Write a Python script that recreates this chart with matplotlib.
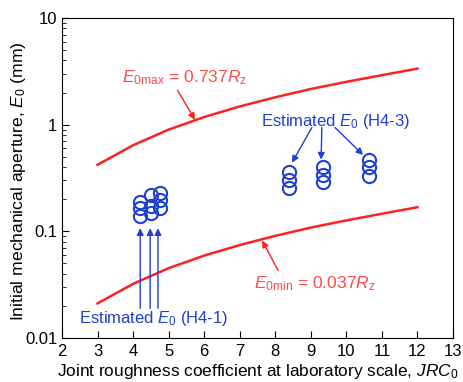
import matplotlib.pyplot as plt
import numpy as np

plt.rcParams['font.family'] = ['Liberation Sans', 'DejaVu Sans']
plt.rcParams['mathtext.fontset'] = 'custom'
plt.rcParams['mathtext.rm'] = 'Liberation Sans'
plt.rcParams['mathtext.it'] = 'Liberation Sans:italic'

# roughness Rz (mm) against laboratory JRC
jrc = [3, 4, 5, 6, 7, 8, 9, 10, 11, 12]
rz = [0.57, 0.87, 1.22, 1.60, 2.01, 2.45, 2.93, 3.42, 3.95, 4.55]
c_max = 0.737
c_min = 0.037

# estimated apertures, H4-1 (three columns near JRC 4-5)
h41_jrc = [4.2, 4.2, 4.2, 4.5, 4.5, 4.5, 4.75, 4.75, 4.75]
h41_e0 = [0.187, 0.164, 0.138, 0.217, 0.171, 0.148, 0.227, 0.195, 0.164]

# estimated apertures, H4-3
h43_jrc = [8.4, 8.4, 8.4, 9.35, 9.35, 9.35, 10.65, 10.65, 10.65]
h43_e0 = [0.36, 0.305, 0.257, 0.40, 0.34, 0.29, 0.47, 0.40, 0.33]

red = '#ff2020'
red_txt = '#ff4a4a'
blue = '#1f3fd0'

fig = plt.figure(figsize=(4.64, 3.82), dpi=100)
ax = fig.add_axes([0.1336, 0.1152, 0.8427, 0.8377])

e_max = np.array(rz) * c_max
e_min = np.array(rz) * c_min
ax.plot(jrc, e_max, color=red, lw=1.8)
ax.plot(jrc, e_min, color=red, lw=1.8)

ax.plot(h41_jrc, h41_e0, 'o', ms=9.5, mfc='none', mec=blue, mew=1.5)
ax.plot(h43_jrc, h43_e0, 'o', ms=9.5, mfc='none', mec=blue, mew=1.5)

ax.set_yscale('log')
ax.set_xlim(2, 13)
ax.set_ylim(0.01, 10)
ax.set_xticks(range(2, 14))
ax.set_yticks([0.01, 0.1, 1, 10])
ax.set_yticklabels(['0.01', '0.1', '1', '10'])
ax.tick_params(which='both', direction='in', top=False, right=False, labelsize=12)
ax.tick_params(which='major', length=5)
ax.tick_params(which='minor', length=3)
ax.tick_params(axis='x', pad=4)

ax.set_xlabel(r'Joint roughness coefficient at laboratory scale, $\mathit{JRC}_0$', fontsize=12.4)
ax.set_ylabel(r'Initial mechanical aperture, $\mathit{E}_0$ (mm)', fontsize=12.6)
ax.xaxis.set_label_coords(0.5, -0.075)
ax.yaxis.set_label_coords(-0.088, 0.49)

arrow = dict(arrowstyle='-|>', mutation_scale=10, lw=1.0, shrinkA=0, shrinkB=0)

# formula labels
ax.text(5.46, 2.76, r'$\mathit{E}_{\mathrm{0max}}$ = 0.737$\mathit{R}_{\mathrm{z}}$',
        ha='center', va='center', color=red_txt, fontsize=12.5)
ax.annotate('', xy=(5.74, 1.11), xytext=(5.25, 2.1),
            arrowprops=dict(arrow, color=red))
ax.text(9.12, 0.0326, r'$\mathit{E}_{\mathrm{0min}}$ = 0.037$\mathit{R}_{\mathrm{z}}$',
        ha='center', va='center', color=red_txt, fontsize=12.5)
ax.annotate('', xy=(7.63, 0.082), xytext=(8.08, 0.043),
            arrowprops=dict(arrow, color=red))

# H4-3 callout
ax.text(9.71, 1.07, r'Estimated $\mathit{E}_0$ (H4-3)', ha='center', va='center',
        color=blue, fontsize=12)
for x0, x1, y1 in [(9.03, 8.47, 0.44), (9.31, 9.29, 0.47), (9.68, 10.47, 0.52)]:
    ax.annotate('', xy=(x1, y1), xytext=(x0, 0.94),
                arrowprops=dict(arrow, color=blue))

# H4-1 callout
ax.text(4.59, 0.0153, r'Estimated $\mathit{E}_0$ (H4-1)', ha='center', va='center',
        color=blue, fontsize=12)
for x in [4.2, 4.48, 4.7]:
    ax.annotate('', xy=(x, 0.107), xytext=(x, 0.019),
                arrowprops=dict(arrow, color=blue))

fig.savefig('out.png', dpi=100)
